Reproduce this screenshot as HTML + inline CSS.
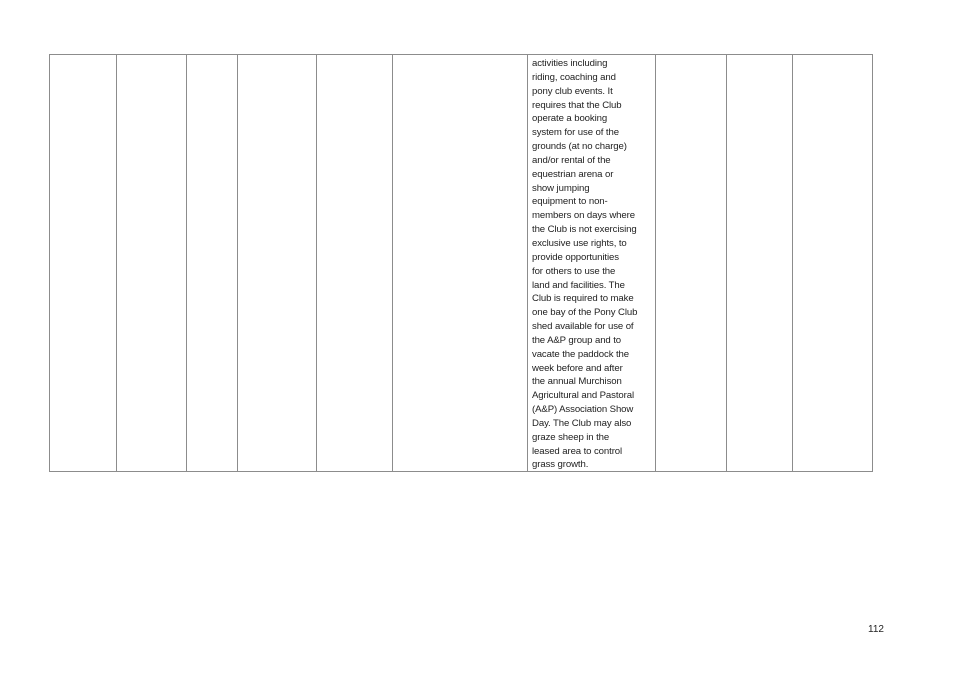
<!DOCTYPE html>
<html><head><style>
body{margin:0;width:954px;height:676px;background:#fff;position:relative;overflow:hidden;font-family:"Liberation Sans",sans-serif;}
.v{position:absolute;top:54px;height:418px;width:1px;background:#8c8c8c;}
.h{position:absolute;left:49px;width:824px;height:1px;background:#8c8c8c;}
.t{position:absolute;left:532px;top:57px;font-size:9.6px;line-height:13.85px;color:#222;white-space:pre;letter-spacing:-0.1px;}
.p{position:absolute;left:868px;top:624px;font-size:10px;color:#222;}
</style></head><body>
<div class="h" style="top:54px"></div>
<div class="h" style="top:471px"></div>
<div class="v" style="left:49px"></div>
<div class="v" style="left:116px"></div>
<div class="v" style="left:186px"></div>
<div class="v" style="left:237px"></div>
<div class="v" style="left:316px"></div>
<div class="v" style="left:392px"></div>
<div class="v" style="left:527px"></div>
<div class="v" style="left:655px"></div>
<div class="v" style="left:726px"></div>
<div class="v" style="left:792px"></div>
<div class="v" style="left:872px"></div>
<div class="t">activities including
riding, coaching and
pony club events. It
requires that the Club
operate a booking
system for use of the
grounds (at no charge)
and/or rental of the
equestrian arena or
show jumping
equipment to non-
members on days where
the Club is not exercising
exclusive use rights, to
provide opportunities
for others to use the
land and facilities. The
Club is required to make
one bay of the Pony Club
shed available for use of
the A&amp;P group and to
vacate the paddock the
week before and after
the annual Murchison
Agricultural and Pastoral
(A&amp;P) Association Show
Day. The Club may also
graze sheep in the
leased area to control
grass growth.</div>
<div class="p">112</div>
</body></html>
